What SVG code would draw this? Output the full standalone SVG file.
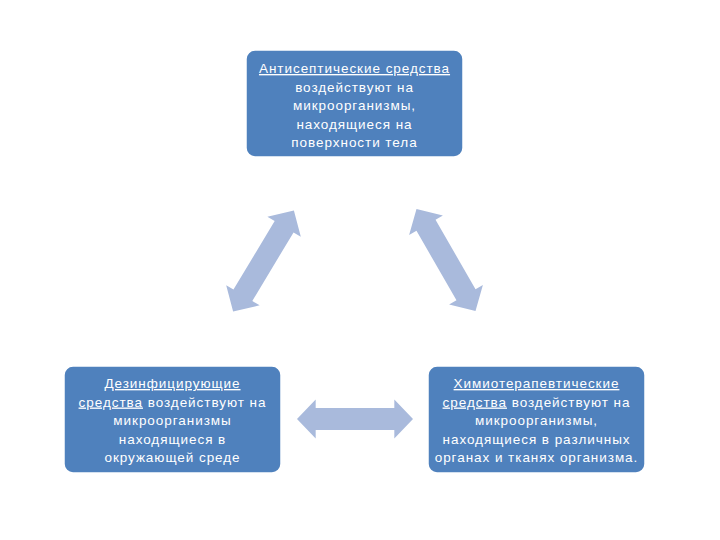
<svg xmlns="http://www.w3.org/2000/svg" width="720" height="540" viewBox="0 0 720 540">
<defs>
<style>
.box{fill:#4F81BD;stroke:#FFFFFF;stroke-width:1.5}
.arr{fill:#A9BADC}
.t{font-family:"Liberation Sans",Arial,sans-serif;font-size:13.5px;fill:#FFFFFF;text-anchor:middle;letter-spacing:0.95px}
.u{text-decoration:underline}
</style>
<path id="dbl" d="M -59 0 L -40 -19.5 L -40 -11 L 40 -11 L 40 -19.5 L 59 0 L 40 19.5 L 40 11 L -40 11 L -40 19.5 Z"/>
</defs>
<rect width="720" height="540" fill="#FFFFFF"/>
<g id="connectors">
<use href="#dbl" class="arr" transform="translate(263.5,261) rotate(-59)"/>
<use href="#dbl" class="arr" transform="translate(446,260) rotate(60)"/>
<use href="#dbl" class="arr" transform="translate(355,419) scale(0.983,1)"/>
</g>
<g id="node-antiseptic">
<rect class="box" x="246" y="50" width="217" height="107" rx="9"/>
<text class="t" x="354.5" y="73"><tspan class="u">Антисептические средства</tspan></text>
<text class="t" x="354.5" y="91.5">воздействуют на</text>
<text class="t" x="354.5" y="110">микроорганизмы,</text>
<text class="t" x="354.5" y="128.5">находящиеся на</text>
<text class="t" x="354.5" y="147">поверхности тела</text>
</g>
<g id="node-disinfectant">
<rect class="box" x="64" y="366" width="217" height="107" rx="9"/>
<text class="t" x="172.5" y="388"><tspan class="u">Дезинфицирующие</tspan></text>
<text class="t" x="172.5" y="406.5"><tspan class="u">средства</tspan> воздействуют на</text>
<text class="t" x="172.5" y="425">микроорганизмы</text>
<text class="t" x="172.5" y="443.5">находящиеся в</text>
<text class="t" x="172.5" y="462">окружающей среде</text>
</g>
<g id="node-chemo">
<rect class="box" x="428" y="366" width="217" height="107" rx="9"/>
<text class="t" x="536.5" y="388"><tspan class="u">Химиотерапевтические</tspan></text>
<text class="t" x="536.5" y="406.5"><tspan class="u">средства</tspan> воздействуют на</text>
<text class="t" x="536.5" y="425">микроорганизмы,</text>
<text class="t" x="536.5" y="443.5">находящиеся в различных</text>
<text class="t" x="536.5" y="462">органах и тканях организма.</text>
</g>
</svg>
